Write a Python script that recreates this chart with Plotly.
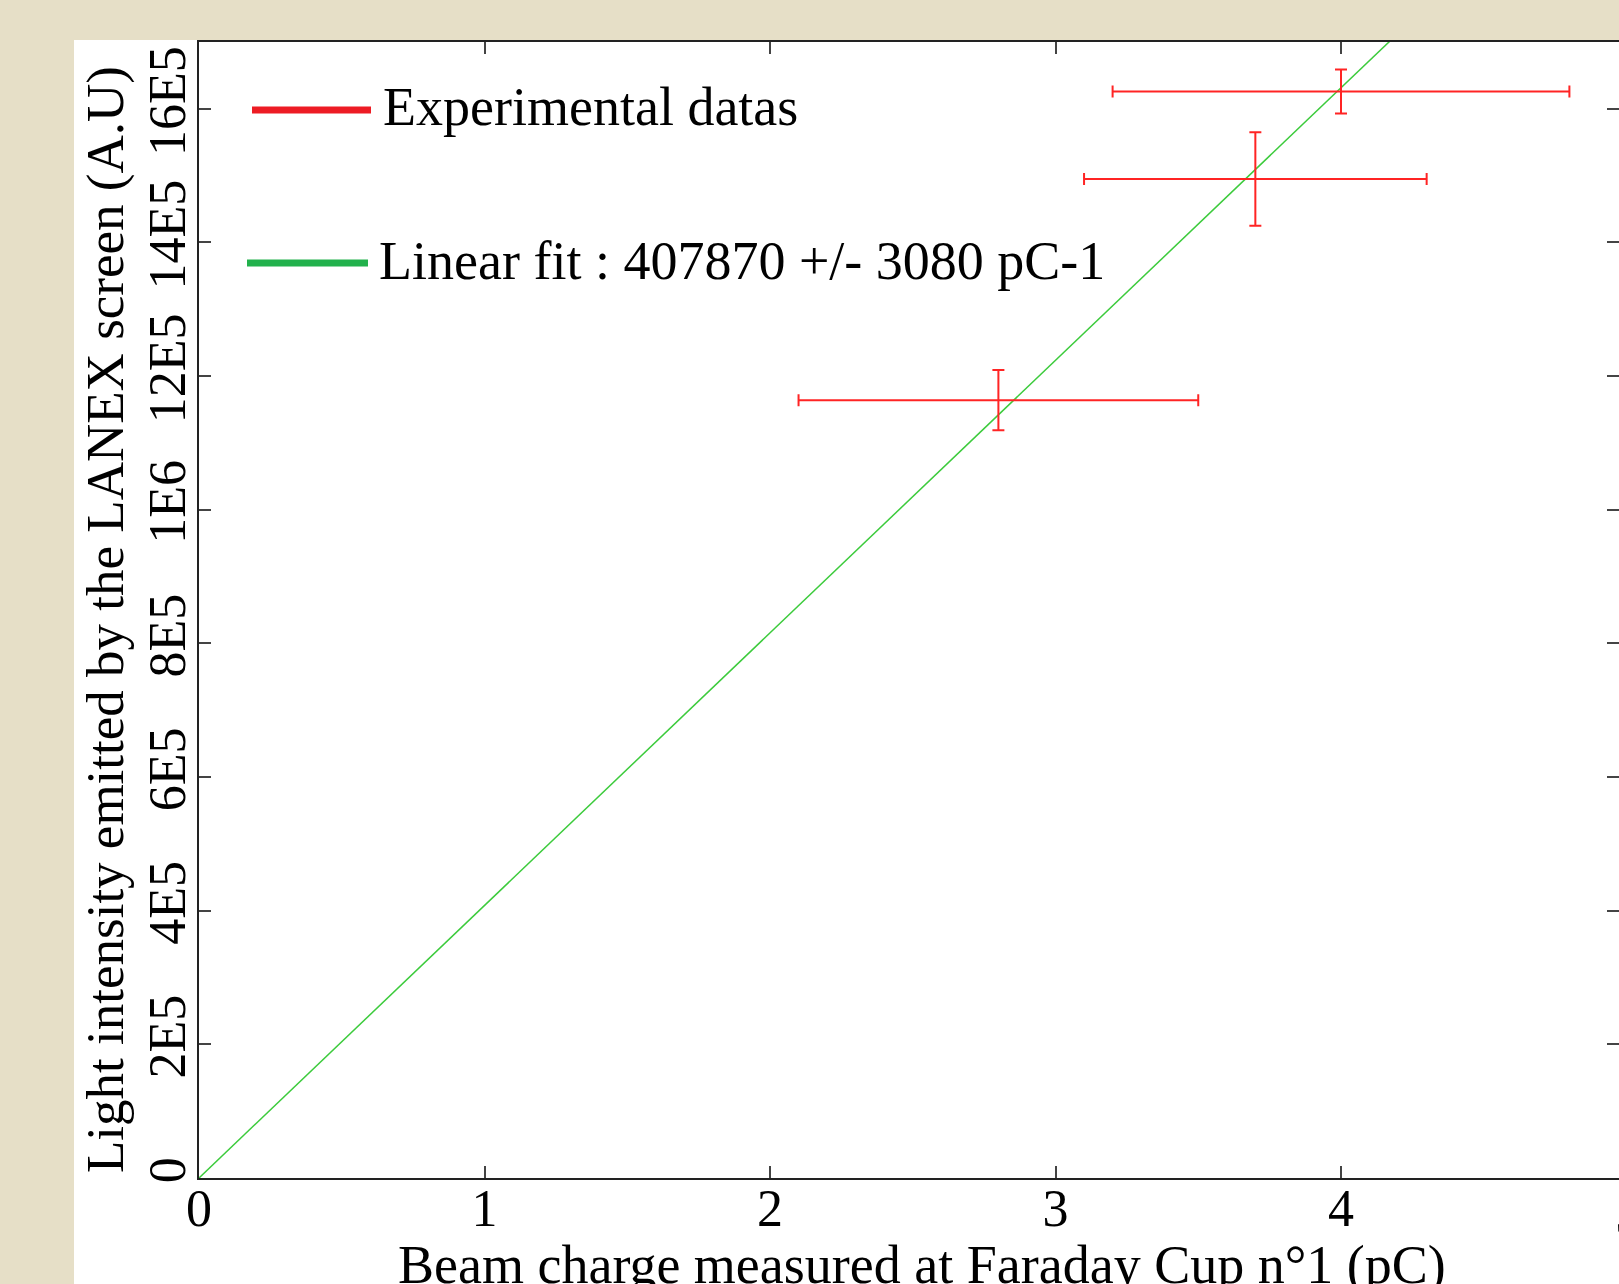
import plotly.graph_objects as go

# ---- data ----
charge = [2.8, 3.7, 4.0]                 # pC
charge_err = [0.7, 0.6, 0.8]
light = [1.164e6, 1.495e6, 1.626e6]      # A.U
light_err = [4.5e4, 7.0e4, 3.3e4]
fit_x = [0.0, 5.0]
fit_y = [0.0, 2039350.0]
x_tick_vals = [0, 1, 2, 3, 4]
x_tick_text = ["0", "1", "2", "3", "4"]
y_tick_vals = [0, 2e5, 4e5, 6e5, 8e5, 1e6, 1.2e6, 1.4e6, 1.6e6]
y_tick_text = ["0", "2E5", "4E5", "6E5", "8E5", "1E6", "12E5", "14E5", "16E5"]
legend_labels = ["Experimental datas", "Linear fit : 407870 +/- 3080 pC-1"]
x_title = "Beam charge measured at Faraday Cup n°1 (pC)"
y_title = "Light intensity emitted by the LANEX screen (A.U)"

# ---- geometry ----
W, H = 1619, 1284
L, T, B, R = 199, 42, 106, 0
PW, PH = W - L - R, H - T - B
FONT = "Liberation Serif, Times New Roman, serif"
RED = "#FF2424"
GREEN = "#3CCB3C"

def px(xp):  # pixel x -> paper x
    return (xp - L) / PW

def py(yp):  # pixel y -> paper y
    return (H - B - yp) / PH

fig = go.Figure()
fig.add_trace(go.Scatter(x=fit_x, y=fit_y, mode="lines",
                         line=dict(color=GREEN, width=1.5),
                         name=legend_labels[1], showlegend=False))
fig.add_trace(go.Scatter(x=charge, y=light, mode="markers",
                         marker=dict(size=1, color=RED),
                         error_x=dict(type="data", array=charge_err, color=RED, thickness=2, width=6),
                         error_y=dict(type="data", array=light_err, color=RED, thickness=2, width=6),
                         name=legend_labels[0], showlegend=False))

shapes = [
    dict(type="rect", xref="paper", yref="paper", x0=px(74), x1=px(W + 10), y0=py(H + 10), y1=py(40),
         fillcolor="white", line=dict(width=0), layer="below"),
    dict(type="line", xref="paper", yref="paper", x0=px(252), x1=px(371), y0=py(110), y1=py(110),
         line=dict(color="#ED1C24", width=7)),
    dict(type="line", xref="paper", yref="paper", x0=px(247), x1=px(368), y0=py(263), y1=py(263),
         line=dict(color="#22B14C", width=7)),
]
annotations = [
    dict(xref="paper", yref="paper", x=px(381), y=py(107), text=legend_labels[0], showarrow=False,
         xanchor="left", yanchor="middle", font=dict(family=FONT, size=54, color="black")),
    dict(xref="paper", yref="paper", x=px(377), y=py(261), text=legend_labels[1], showarrow=False,
         xanchor="left", yanchor="middle", font=dict(family=FONT, size=54, color="black")),
    dict(xref="paper", yref="paper", x=px(1628), y=py(1184), text="5", showarrow=False,
         xanchor="center", yanchor="top", font=dict(family=FONT, size=52, color="black")),
    # axis titles
    dict(xref="paper", yref="paper", x=px(922), y=py(1265), text=x_title, showarrow=False,
         xanchor="center", yanchor="middle", font=dict(family=FONT, size=54, color="black")),
    dict(xref="paper", yref="paper", x=px(105), y=py(620), text=y_title, showarrow=False,
         textangle=-90, xanchor="center", yanchor="middle",
         font=dict(family=FONT, size=53, color="black")),
]

fig.update_layout(
    width=W, height=H,
    margin=dict(l=L, r=R, t=T, b=B, pad=0, autoexpand=False),
    paper_bgcolor="#E6DFC7", plot_bgcolor="white",
    font=dict(family=FONT, size=52, color="black"),
    showlegend=False,
    shapes=shapes, annotations=annotations,
    xaxis=dict(range=[0, PW / 285.5], tickvals=x_tick_vals, ticktext=x_tick_text,
               showgrid=False, zeroline=False, showline=True, linecolor="#222", linewidth=2,
               mirror="allticks", ticks="inside", ticklen=12, tickwidth=1.5, tickcolor="#444",
               tickfont=dict(family=FONT, size=52), ticklabelstandoff=-16, automargin=False),
    yaxis=dict(range=[0, 1.7e6], tickvals=y_tick_vals, ticktext=y_tick_text, tickangle=-90,
               showgrid=False, zeroline=False, showline=True, linecolor="#222", linewidth=2,
               mirror="ticks", ticks="inside", ticklen=12, tickwidth=1.5, tickcolor="#444",
               tickfont=dict(family=FONT, size=52), ticklabelstandoff=-9, automargin=False),
)

fig.write_html("out.html", config={"displayModeBar": False},
               post_script="document.body.style.margin='0px';document.body.style.overflow='hidden';")
